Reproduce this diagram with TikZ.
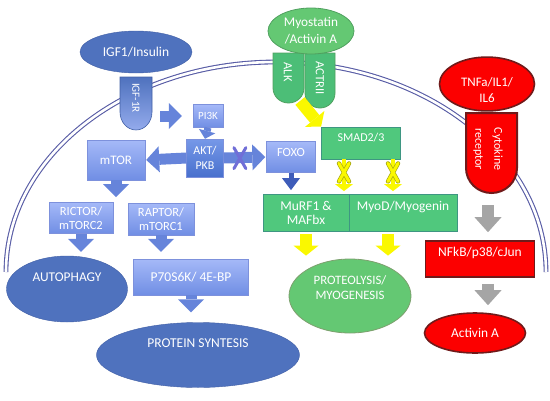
\documentclass[tikz,border=0pt]{standalone}
\usepackage{fontspec}
\setmainfont{Carlito}
\usetikzlibrary{calc,shapes.geometric,arrows.meta,positioning}

\definecolor{ovalblue}{RGB}{79,114,190}
\definecolor{ovalline}{RGB}{65,95,165}
\definecolor{boxtop}{RGB}{165,185,248}
\definecolor{boxbot}{RGB}{112,142,228}
\definecolor{boxline}{RGB}{125,145,220}
\definecolor{akttop}{RGB}{118,152,232}
\definecolor{aktbot}{RGB}{72,112,205}
\definecolor{arrowblue}{RGB}{102,132,218}
\definecolor{foxoblue}{RGB}{62,92,185}
\definecolor{membcol}{RGB}{88,92,165}
\definecolor{grnfill}{RGB}{80,200,125}
\definecolor{grnline}{RGB}{62,150,130}
\definecolor{grnoval}{RGB}{100,200,115}
\definecolor{grnovalline}{RGB}{80,160,95}
\definecolor{proteoline}{RGB}{125,160,110}
\definecolor{cytred}{RGB}{252,0,0}
\definecolor{darkred}{RGB}{112,26,26}
\definecolor{yelfill}{RGB}{250,248,0}
\definecolor{yelline}{RGB}{170,170,20}
\definecolor{greyarr}{RGB}{165,165,165}
\definecolor{xblue}{RGB}{112,110,215}

\newcommand{\fs}[2]{\fontsize{#1}{#2}\selectfont}

\tikzset{
    membrane/.style={draw=membcol, line width=1.1pt, double=white, double distance=2.6pt},
    blueoval/.style={ellipse, fill=ovalblue, draw=ovalline, text=white, align=center, inner sep=0pt},
    greenoval/.style={ellipse, fill=grnoval, draw=grnovalline, line width=0.8pt, text=white, align=center, inner sep=0pt},
    redoval/.style={ellipse, fill=cytred, draw=darkred, line width=1.6pt, text=white, align=center, inner sep=0pt},
    lightbox/.style={rectangle, top color=boxtop, bottom color=boxbot, draw=boxline, text=white, align=center, inner sep=1pt},
    aktbox/.style={rectangle, top color=akttop, bottom color=aktbot, draw=boxline, text=white, align=center, inner sep=1pt},
    greenbox/.style={rectangle, fill=grnfill, draw=grnline, line width=0.8pt, text=white, align=center, inner sep=1pt},
    redbox/.style={rectangle, fill=cytred, draw=darkred, line width=1.6pt, text=white, align=center, inner sep=1pt},
    % receptors
    igfshape/.style={top color=ovalblue, bottom color=boxtop!80!ovalblue, draw=ovalline, line width=0.6pt},
    grnrecep/.style={fill=grnfill!95!black, draw=grnovalline, line width=0.8pt},
    cytrecep/.style={fill=cytred, draw=darkred, line width=2pt},
    rectext/.style={text=white, rotate=-90, align=center, inner sep=0pt},
    % arrows
    bluearrow/.style={line width=11pt, draw=arrowblue, -{Triangle[length=13pt, width=26pt, line width=0pt]}},
    smallblue/.style={line width=7pt, draw=arrowblue, -{Triangle[length=8pt, width=17pt, line width=0pt]}},
    foxoarrow/.style={line width=5pt, draw=foxoblue, -{Triangle[length=12pt, width=18pt, line width=0pt]}},
    yellowarrow/.style={line width=12pt, draw=yelfill, -{Triangle[length=10pt, width=25pt, line width=0pt]}},
    thinyellow/.style={line width=4pt, draw=yelfill, -{Triangle[length=7pt, width=18pt, line width=0pt]}},
    greyarrow/.style={line width=12pt, draw=greyarr, -{Triangle[length=15pt, width=27pt, line width=0pt]}},
    crossbar/.style={line cap=round, line width=3pt}
}

\begin{document}
\begin{tikzpicture}[x=1pt, y=-1pt, font=\fs{13}{14.5}]
    \useasboundingbox (0,0) rectangle (550,400);

    % cell membrane
    \draw[membrane] (6,272) arc[start angle=180, end angle=360, x radius=270, y radius=210];

    % receptors
    \draw[igfshape] (120,77) -- (152,77) -- (152,112) arc[start angle=0, end angle=180, x radius=16, y radius=18] -- cycle;
    \draw[grnrecep] (273,53) -- (304,53) -- (304,88) arc[start angle=0, end angle=180, x radius=15.5, y radius=15] -- cycle;
    \draw[grnrecep] (305,53) -- (335,53) -- (335,93) arc[start angle=0, end angle=180, x radius=15, y radius=15] -- cycle;
    \draw[cytrecep] (466,113) -- (517,113) -- (517,168) arc[start angle=0, end angle=180, x radius=25.5, y radius=25] -- cycle;
    \coordinate (actjoint) at (300,101);
    \coordinate (cytbot) at (488,193);

    \node[rectext, font=\fs{11}{12}] (igfr) at (136,98) {IGF-1R};
    \node[rectext, font=\fs{12.5}{13}] (alk) at (288,72) {ALK};
    \node[rectext, font=\fs{12.5}{13}] (actrii) at (320,78) {ACTRII};
    \node[rectext, font=\fs{12}{19}] (cytrec) at (488,149) {Cytokine\\receptor};

    % ligands
    \node[blueoval, minimum width=112pt, minimum height=42pt, font=\fs{13.5}{15}] (igf) at (136,52) {IGF1/Insulin};
    \node[greenoval, minimum width=86pt, minimum height=46pt, font=\fs{13.3}{17}] (myo) at (311,31) {Myostatin\\/Activin A};
    \node[redoval, minimum width=95pt, minimum height=38pt, font=\fs{13}{16}, text height=38pt] (tnf) at (487,84) {TNFa/IL1/\\IL6};

    % IGF pathway
    \node[lightbox, minimum width=30pt, minimum height=23pt, font=\fs{11}{12}] (pi3k) at (208,116) {PI3K};
    \node[aktbox, minimum width=37pt, minimum height=38pt, font=\fs{12}{15}] (akt) at (205,158) {AKT/\\PKB};
    \node[lightbox, minimum width=58pt, minimum height=40pt] (mtor) at (116,160) {mTOR};
    \node[lightbox, minimum width=49pt, minimum height=31pt, text depth=10pt, font=\fs{12.5}{14}] (foxo) at (291,157) {FOXO};
    \node[lightbox, minimum width=64pt, minimum height=31pt, font=\fs{12.5}{14}] (rictor) at (81,218) {RICTOR/\\mTORC2};
    \node[lightbox, minimum width=66pt, minimum height=32pt, font=\fs{12.5}{14}] (raptor) at (161,219) {RAPTOR/\\mTORC1};
    \node[lightbox, minimum width=115pt, minimum height=36pt, font=\fs{13.5}{15}] (p70) at (191,277) {P70S6K/ 4E-BP};
    \node[blueoval, minimum width=121pt, minimum height=66pt, text depth=24pt, font=\fs{13.4}{15}] (autoph) at (67,289) {AUTOPHAGY};
    \node[blueoval, minimum width=203pt, minimum height=65pt, text depth=24pt, font=\fs{13.5}{15}] (protein) at (198,355) {PROTEIN SYNTESIS};
    \coordinate (split) at (116,197);

    % myostatin pathway
    \node[greenbox, minimum width=79pt, minimum height=32pt, text depth=12pt, font=\fs{12}{14}] (smad) at (361,143) {SMAD2/3};
    \node[greenbox, minimum width=86pt, minimum height=37pt, font=\fs{13.5}{14}] (murf) at (306,213) {MuRF1 \&\\MAFbx};
    \node[greenbox, minimum width=108pt, minimum height=37pt, text depth=14pt, font=\fs{13.4}{15}] (myod) at (403,213) {MyoD/Myogenin};
    \node[greenoval, draw=proteoline, minimum width=122pt, minimum height=74pt, text depth=16pt, font=\fs{12.8}{15}] (proteo) at (350,296) {PROTEOLYSIS/\\MYOGENESIS};

    % cytokine pathway
    \node[redbox, minimum width=109pt, minimum height=36pt, text depth=14pt, font=\fs{13.5}{15}] (nfkb) at (480,259) {NFkB/p38/cJun};
    \node[redoval, minimum width=101pt, minimum height=40pt, font=\fs{13.4}{15}] (activin) at (475,333) {Activin A};

    % arrows
    \draw[bluearrow, shorten <=24pt, shorten >=11pt] (igfr.center |- pi3k.west) -- (pi3k.west);
    \draw[smallblue] (pi3k.south) -- (akt.north);
    \draw[bluearrow, shorten >=1pt] (akt.west) -- (mtor.east);
    \draw[bluearrow, shorten >=1pt] (akt.east) -- (foxo.west);
    \draw[crossbar, xblue] ($(akt.east)!0.38!(foxo.west)+(-6,-10)$) -- ++(12,21)
                           ($(akt.east)!0.38!(foxo.west)+(6,-10)$) -- ++(-12,21);
    \draw[bluearrow] (mtor.south) -- (split);
    \draw[bluearrow, shorten >=4pt] (rictor.south) -- (rictor.south |- autoph.north);
    \draw[bluearrow, shorten >=7pt] (raptor.south) -- (raptor.south |- p70.north);
    \draw[bluearrow, shorten >=10pt] (p70.south) -- (p70.south |- protein.north);
    \draw[foxoarrow, shorten >=4pt] (foxo.south) -- (foxo.south |- murf.north);

    \draw[yellowarrow] (actjoint) -- (smad.north west);
    \draw[thinyellow, shorten >=3pt] ([xshift=-17pt]smad.south) -- ([xshift=-17pt]smad.south |- murf.north);
    \draw[thinyellow, shorten >=3pt] ([xshift=32pt]smad.south) -- ([xshift=32pt]smad.south |- myod.north);
    \foreach \dx in {-17,32} {
        \draw[crossbar, yelline, line width=4.4pt] ([xshift=\dx pt, yshift=-4pt]smad.south) ++(-5,0) -- ++(10,18) ++(0,-18) -- ++(-10,18);
        \draw[crossbar, yelfill] ([xshift=\dx pt, yshift=-4pt]smad.south) ++(-5,0) -- ++(10,18) ++(0,-18) -- ++(-10,18);
    }
    \draw[yellowarrow, shorten <=2pt, shorten >=3pt] (murf.south) -- (murf.south |- proteo.north);
    \draw[yellowarrow, shorten <=2pt, shorten >=3pt] ([xshift=-15pt]myod.south) -- ([xshift=-15pt]myod.south |- proteo.north);

    \draw[greyarrow, shorten <=12pt, shorten >=8pt] (cytbot) -- (cytbot |- nfkb.north);
    \draw[greyarrow, shorten <=6pt, shorten >=7pt] (nfkb.south -| cytbot) -- (cytbot |- activin.north);
\end{tikzpicture}
\end{document}
